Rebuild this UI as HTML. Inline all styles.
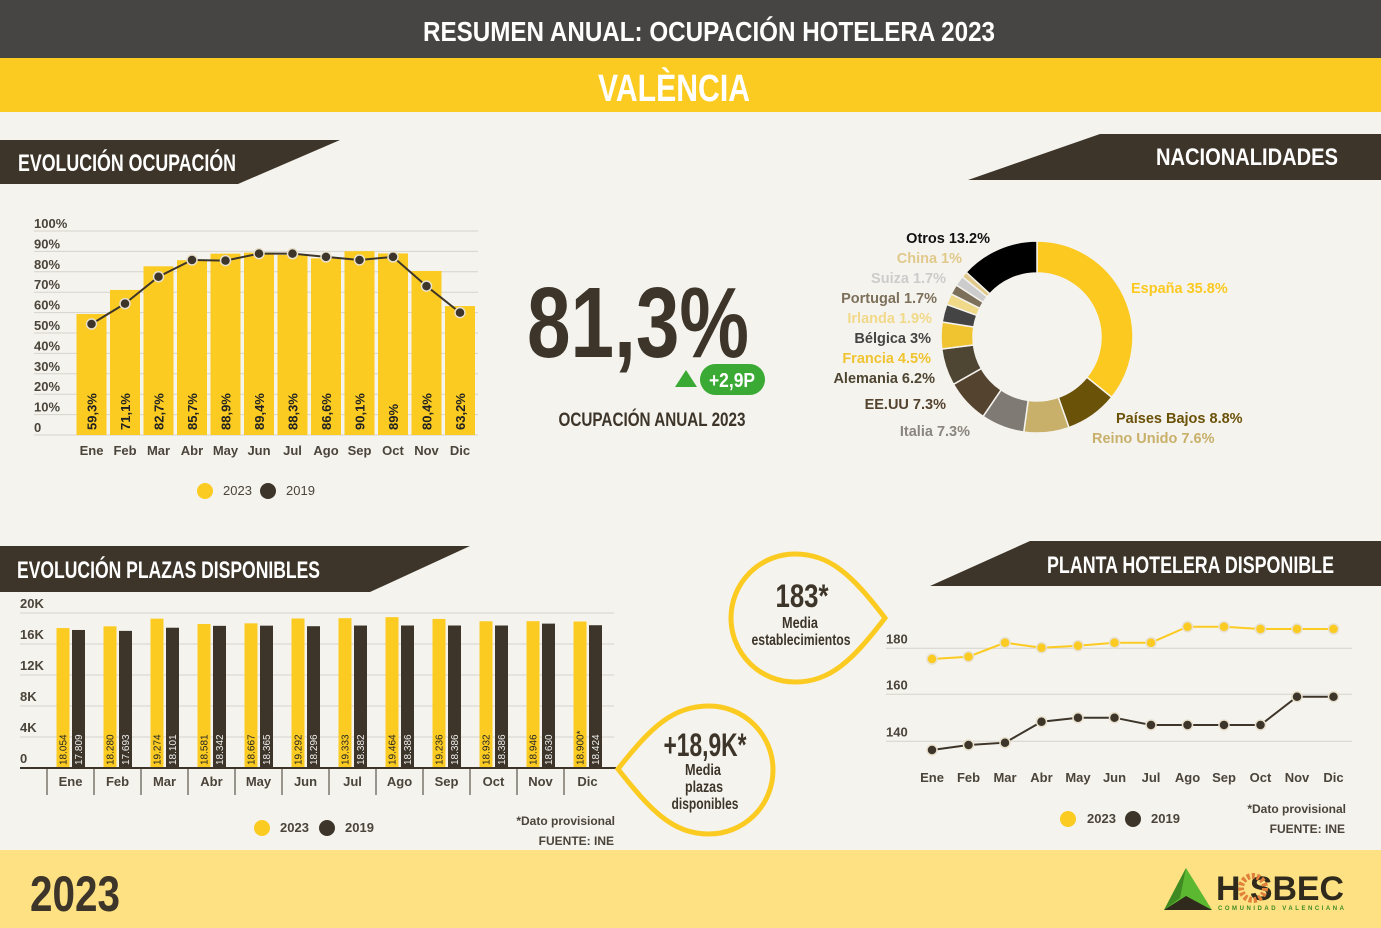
<!DOCTYPE html>
<html><head><meta charset="utf-8">
<style>
html,body{margin:0;padding:0;background:#f5f3ee;}
svg{display:block;font-family:"Liberation Sans Narrow","Liberation Sans",sans-serif;}
</style></head>
<body>
<svg id="s" width="1381" height="928" viewBox="0 0 1381 928" xmlns="http://www.w3.org/2000/svg">
<rect width="1381" height="928" fill="#f5f3ee"/>
<rect width="1381" height="58" fill="#464543"/>
<text x="709" y="41" fill="#fff" font-size="28" font-weight="bold" text-anchor="middle" textLength="572" lengthAdjust="spacingAndGlyphs">RESUMEN ANUAL: OCUPACIÓN HOTELERA 2023</text>
<rect y="58" width="1381" height="54" fill="#fbcb22"/>
<text x="674" y="101" fill="#fff" font-size="38" font-weight="bold" text-anchor="middle" textLength="152" lengthAdjust="spacingAndGlyphs">VALÈNCIA</text>

<polygon points="0,140 340,140 238,184 0,184" fill="#3d3529"/>
<text x="18" y="171" fill="#fff" font-size="24" font-weight="bold" textLength="218" lengthAdjust="spacingAndGlyphs">EVOLUCIÓN OCUPACIÓN</text>
<polygon points="968,180 1100,134 1381,134 1381,180" fill="#3d3529"/>
<text x="1156" y="165" fill="#fff" font-size="24" font-weight="bold" textLength="182" lengthAdjust="spacingAndGlyphs">NACIONALIDADES</text>
<polygon points="0,546 470,546 370,592 0,592" fill="#3d3529"/>
<text x="17" y="578" fill="#fff" font-size="24" font-weight="bold" textLength="303" lengthAdjust="spacingAndGlyphs">EVOLUCIÓN PLAZAS DISPONIBLES</text>
<polygon points="930,586 1030,541 1381,541 1381,586" fill="#3d3529"/>
<text x="1047" y="573" fill="#fff" font-size="24" font-weight="bold" textLength="287" lengthAdjust="spacingAndGlyphs">PLANTA HOTELERA DISPONIBLE</text>

<g id="c1"></g>
<g id="c2"></g>
<g id="c3"></g>
<g id="donut"></g>

<text x="638" y="357" fill="#3d3529" font-size="100" font-weight="bold" text-anchor="middle" textLength="222" lengthAdjust="spacingAndGlyphs">81,3%</text>
<polygon points="675,387 686,370 697,387" fill="#3aaa35"/>
<rect x="700" y="364" width="65" height="31" rx="15.5" fill="#3aaa35"/>
<text x="732" y="387" fill="#fff" font-size="20" font-weight="bold" text-anchor="middle" textLength="46" lengthAdjust="spacingAndGlyphs">+2,9P</text>
<text x="652" y="426" fill="#3d3529" font-size="19" font-weight="bold" text-anchor="middle" textLength="187" lengthAdjust="spacingAndGlyphs">OCUPACIÓN ANUAL 2023</text>

<path d="M885,618 C852,575 830,554 795,554 A64,64 0 1,0 795,682 C830,682 852,661 885,618 Z" fill="none" stroke="#fbcb22" stroke-width="5"/>
<text x="802" y="607" fill="#3d3529" font-size="32" font-weight="bold" text-anchor="middle" textLength="53" lengthAdjust="spacingAndGlyphs">183*</text>
<text x="800" y="628" fill="#3d3529" font-size="16" font-weight="bold" text-anchor="middle" textLength="36" lengthAdjust="spacingAndGlyphs">Media</text>
<text x="801" y="645" fill="#3d3529" font-size="16" font-weight="bold" text-anchor="middle" textLength="99" lengthAdjust="spacingAndGlyphs">establecimientos</text>
<path d="M618,769 C651,727 673,706 709,706 A64,64 0 1,1 709,834 C673,834 651,811 618,769 Z" fill="none" stroke="#fbcb22" stroke-width="5"/>
<text x="705" y="756" fill="#3d3529" font-size="32" font-weight="bold" text-anchor="middle" textLength="83" lengthAdjust="spacingAndGlyphs">+18,9K*</text>
<text x="703" y="775" fill="#3d3529" font-size="16" font-weight="bold" text-anchor="middle" textLength="36" lengthAdjust="spacingAndGlyphs">Media</text>
<text x="704" y="792" fill="#3d3529" font-size="16" font-weight="bold" text-anchor="middle" textLength="38" lengthAdjust="spacingAndGlyphs">plazas</text>
<text x="705" y="809" fill="#3d3529" font-size="16" font-weight="bold" text-anchor="middle" textLength="67" lengthAdjust="spacingAndGlyphs">disponibles</text>

<rect y="850" width="1381" height="78" fill="#fde183"/>
<text x="30" y="911" fill="#3d3529" font-size="50" font-weight="bold" textLength="90" lengthAdjust="spacingAndGlyphs">2023</text>
<polygon points="1164,910 1186,868 1212,910" fill="#5cb830"/>
<polygon points="1186,868 1164,910 1180,898" fill="#3f8a22"/>
<polygon points="1164,910 1186,896 1212,910" fill="#2f2a1c"/>
<text x="1216" y="900" fill="#2f2a1c" font-size="34" font-weight="bold" textLength="128" lengthAdjust="spacingAndGlyphs">H SBEC</text>
<circle cx="1253" cy="888" r="12" fill="none" stroke="#e0803a" stroke-width="6" stroke-dasharray="3 2"/>
<text x="1218" y="910" fill="#3f8a22" font-size="6" font-weight="bold" textLength="126" lengthAdjust="spacing">COMUNIDAD VALENCIANA</text>
</svg>
<script>
const NS="http://www.w3.org/2000/svg";
function el(p,t,a,txt){const e=document.createElementNS(NS,t);for(const k in a)e.setAttribute(k,a[k]);if(txt!=null)e.textContent=txt;p.appendChild(e);return e;}
const M=["Ene","Feb","Mar","Abr","May","Jun","Jul","Ago","Sep","Oct","Nov","Dic"];
const DK="#3d3529",YL="#fbcb22",TX="#4a443a";
let g=document.getElementById("c1");
for(let i=0;i<=10;i++){const y=435-i*20.4;el(g,"line",{x1:34,x2:478,y1:y,y2:y,stroke:"#d6d3cc","stroke-width":1});
el(g,"text",{x:34,y:y-3,fill:TX,"font-size":13,"font-weight":"bold"},i==0?"0":(i*10)+"%");}
const v23=[59.3,71.1,82.7,85.7,88.9,89.4,88.3,86.6,90.1,89,80.4,63.2];
const v19=[54.4,64.4,77.6,85.8,85.5,88.9,88.9,87.3,85.8,87.3,73,60];
const lab=["59,3%","71,1%","82,7%","85,7%","88,9%","89,4%","88,3%","86,6%","90,1%","89%","80,4%","63,2%"];
for(let i=0;i<12;i++){const cx=91.5+i*33.5,h=v23[i]*2.04;
el(g,"rect",{x:cx-15,y:435-h,width:30,height:h,fill:YL});
el(g,"text",{x:0,y:0,fill:"#222","font-size":13,"font-weight":"bold",transform:`translate(${cx+5},${430}) rotate(-90)`},lab[i]);
el(g,"text",{x:cx,y:455,fill:TX,"font-size":13,"font-weight":"bold","text-anchor":"middle"},M[i]);}
let pts=v19.map((v,i)=>[(91.5+i*33.5),435-v*2.04]);
el(g,"polyline",{points:pts.map(p=>p.join(",")).join(" "),fill:"none",stroke:DK,"stroke-width":2});
pts.forEach(p=>el(g,"circle",{cx:p[0],cy:p[1],r:5,fill:DK,stroke:"#e8e0cc","stroke-width":1.5}));
el(g,"circle",{cx:205,cy:491,r:8,fill:YL});el(g,"text",{x:223,y:495,fill:TX,"font-size":13},"2023");
el(g,"circle",{cx:268,cy:491,r:8,fill:DK});el(g,"text",{x:286,y:495,fill:TX,"font-size":13},"2019");
g=document.getElementById("c2");
const ylab=["0","4K","8K","12K","16K","20K"];
for(let i=0;i<=5;i++){const y=768-i*31;if(i>0)el(g,"line",{x1:20,x2:614,y1:y,y2:y,stroke:"#d6d3cc"});
el(g,"text",{x:20,y:y-5,fill:TX,"font-size":13,"font-weight":"bold"},ylab[i]);}
const a23=[18054,18280,19274,18581,18667,19292,19333,19464,19236,18932,18946,18900];
const a19=[17809,17693,18101,18342,18365,18296,18382,18386,18386,18386,18630,18424];
for(let i=0;i<12;i++){const cx=70.5+i*47;
let h=a23[i]/20000*155;el(g,"rect",{x:cx-14,y:768-h,width:13,height:h,fill:YL});
h=a19[i]/20000*155;el(g,"rect",{x:cx+1.5,y:768-h,width:13,height:h,fill:DK});
const s=(n)=>String(n).replace(/(\d\d)(\d\d\d)$/,"$1.$2");
el(g,"text",{fill:"#222","font-size":10,transform:`translate(${cx-4},765) rotate(-90)`},s(a23[i])+(i==11?"*":""));
el(g,"text",{fill:"#eee","font-size":10,transform:`translate(${cx+11.5},765) rotate(-90)`},s(a19[i]));
el(g,"text",{x:cx,y:786,fill:TX,"font-size":13,"font-weight":"bold","text-anchor":"middle"},M[i]);
el(g,"line",{x1:cx-23.5,x2:cx-23.5,y1:768,y2:795,stroke:DK});}
el(g,"line",{x1:20,x2:616,y1:768,y2:768,stroke:DK,"stroke-width":2});
el(g,"circle",{cx:262,cy:828,r:8,fill:YL});el(g,"text",{x:280,y:832,fill:TX,"font-size":13,"font-weight":"bold"},"2023");
el(g,"circle",{cx:327,cy:828,r:8,fill:DK});el(g,"text",{x:345,y:832,fill:TX,"font-size":13,"font-weight":"bold"},"2019");
el(g,"text",{x:615,y:825,fill:TX,"font-size":12,"font-weight":"bold","text-anchor":"end"},"*Dato provisional");
el(g,"text",{x:614,y:845,fill:TX,"font-size":12,"font-weight":"bold","text-anchor":"end"},"FUENTE: INE");
g=document.getElementById("c3");
[[648.3,"180"],[694.3,"160"],[741.3,"140"]].forEach(r=>{el(g,"line",{x1:886,x2:1352,y1:r[0],y2:r[0],stroke:"#d6d3cc"});
el(g,"text",{x:886,y:r[0]-5,fill:TX,"font-size":13,"font-weight":"bold"},r[1]);});
const y23=[659,656.7,642.7,647.7,645.7,642.7,642.7,626.7,626.7,629,629,629];
const y19=[750,745,742.7,721.7,717.7,717.7,725,725,725,725,696.7,696.7];
[[y23,YL],[y19,DK]].forEach(([ys,c])=>{const p=ys.map((y,i)=>[932+i*36.5,y]);
el(g,"polyline",{points:p.map(q=>q.join(",")).join(" "),fill:"none",stroke:c,"stroke-width":2});
p.forEach(q=>el(g,"circle",{cx:q[0],cy:q[1],r:5,fill:c,stroke:"#e8e0cc","stroke-width":1.5}));});
M.forEach((m,i)=>el(g,"text",{x:932+i*36.5,y:782,fill:TX,"font-size":13,"font-weight":"bold","text-anchor":"middle"},m));
el(g,"circle",{cx:1068,cy:819,r:8,fill:YL});el(g,"text",{x:1087,y:823,fill:TX,"font-size":13,"font-weight":"bold"},"2023");
el(g,"circle",{cx:1133,cy:819,r:8,fill:DK});el(g,"text",{x:1151,y:823,fill:TX,"font-size":13,"font-weight":"bold"},"2019");
el(g,"text",{x:1346,y:813,fill:TX,"font-size":12,"font-weight":"bold","text-anchor":"end"},"*Dato provisional");
el(g,"text",{x:1345,y:833,fill:TX,"font-size":12,"font-weight":"bold","text-anchor":"end"},"FUENTE: INE");
g=document.getElementById("donut");
const D=[[35.8,"#fbc920"],[8.8,"#6b5209"],[7.6,"#c8b06a"],[7.3,"#7f7a74"],[7.3,"#54432e"],[6.2,"#4e4632"],[4.5,"#f0c330"],[3,"#444444"],[1.9,"#f1d98a"],[1.7,"#7d705a"],[1.7,"#cccccc"],[1,"#e0c98a"],[13.2,"#000000"]];
const CX=1037,CY=337,R=96,r=64;let a=0;
const P=(ang,rad)=>[CX+rad*Math.sin(ang),CY-rad*Math.cos(ang)];
D.forEach(([v,c])=>{const a0=a/100*2*Math.PI;a+=v;const a1=a/100*2*Math.PI;const lg=(a1-a0)>Math.PI?1:0;
const p0=P(a0,R),p1=P(a1,R),p2=P(a1,r),p3=P(a0,r);
el(g,"path",{d:`M${p0} A${R},${R} 0 ${lg},1 ${p1} L${p2} A${r},${r} 0 ${lg},0 ${p3} Z`,fill:c,stroke:"#f5f3ee","stroke-width":1.5});});
const L=[["Otros 13.2%",990,243,"#111","end"],["China 1%",962,263,"#e0c98a","end"],["Suiza 1.7%",946,283,"#cccccc","end"],["Portugal 1.7%",937,303,"#7d705a","end"],["Irlanda 1.9%",932,323,"#f1d98a","end"],["Bélgica 3%",931,343,"#444","end"],["Francia 4.5%",931,363,"#f0c330","end"],["Alemania 6.2%",935,383,"#4e4632","end"],["EE.UU 7.3%",946,409,"#54432e","end"],["Italia 7.3%",970,436,"#8a857e","end"],["España 35.8%",1131,293,"#fbc920","start"],["Países Bajos 8.8%",1116,423,"#6b5209","start"],["Reino Unido 7.6%",1092,443,"#c8b06a","start"]];
L.forEach(l=>el(g,"text",{x:l[1],y:l[2],fill:l[3],"font-size":14.5,"font-weight":"bold","text-anchor":l[4]},l[0]));
</script>
</body></html>
